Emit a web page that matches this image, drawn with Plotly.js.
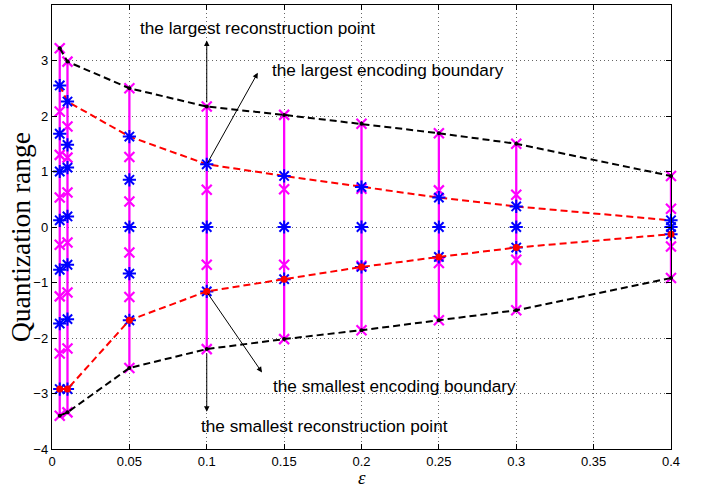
<!DOCTYPE html>
<html>
<head>
<meta charset="utf-8">
<script src="https://cdn.plot.ly/plotly-3.0.1.min.js"></script>
<style>html,body{margin:0;padding:0;background:#fff;}#chart{width:707px;height:487px;}</style>
</head>
<body>
<div id="chart"></div>
<script>
// epsilon values (x positions of the quantizer columns)
const epsilons = [0.005, 0.01, 0.05, 0.1, 0.15, 0.2, 0.25, 0.3, 0.4];

// reconstruction points per epsilon (magenta x)
const recon_0005 = [3.22, 2.08, 1.30, 0.53, -0.32, -1.25, -2.28, -3.40];
const recon_001  = [2.98, 1.81, 1.25, 0.62, -0.28, -1.18, -2.19, -3.34];
const recon_005  = [2.50, 1.26, 0.46, -0.46, -1.26, -2.54];
const recon_01   = [2.17, 0.67, -0.68, -2.20];
const recon_015  = [2.02, 0.68, -0.68, -2.02];
const recon_02   = [1.86, 0.69, -0.70, -1.86];
const recon_025  = [1.69, 0.66, -0.65, -1.68];
const recon_03   = [1.50, 0.58, -0.59, -1.50];
const recon_04   = [0.92, 0.33, -0.35, -0.92];

// encoding boundaries per epsilon (blue *)
const bound_0005 = [2.55, 1.68, 1.00, 0.12, -0.77, -1.74, -2.92];
const bound_001  = [2.26, 1.48, 1.07, 0.19, -0.68, -1.66, -2.92];
const bound_005  = [1.63, 0.85, 0.00, -0.84, -1.68];
const bound_01   = [1.13, 0.00, -1.16];
const bound_015  = [0.92, 0.00, -0.94];
const bound_02   = [0.72, 0.00, -0.72];
const bound_025  = [0.53, 0.00, -0.54];
const bound_03   = [0.37, 0.00, -0.37];
const bound_04   = [0.12, 0.00, -0.13];

// envelope curves
const largestRecon    = [3.22, 2.98, 2.50, 2.17, 2.02, 1.86, 1.69, 1.50, 0.92];
const smallestRecon   = [-3.40, -3.34, -2.54, -2.20, -2.02, -1.86, -1.68, -1.50, -0.92];
const largestBound    = [2.55, 2.26, 1.63, 1.13, 0.92, 0.72, 0.53, 0.37, 0.12];
const smallestBound   = [-2.92, -2.92, -1.68, -1.16, -0.94, -0.72, -0.54, -0.37, -0.13];

// tick labels
const xTickVals = [0, 0.05, 0.1, 0.15, 0.2, 0.25, 0.3, 0.35, 0.4];
const xTickText = ['0', '0.05', '0.1', '0.15', '0.2', '0.25', '0.3', '0.35', '0.4'];
const yTickVals = [-4, -3, -2, -1, 0, 1, 2, 3, 4];
const yTickText = ['\u22124', '\u22123', '\u22122', '\u22121', '0', '1', '2', '3', '4'];

const reconCols = [recon_0005, recon_001, recon_005, recon_01, recon_015, recon_02, recon_025, recon_03, recon_04];
const boundCols = [bound_0005, bound_001, bound_005, bound_01, bound_015, bound_02, bound_025, bound_03, bound_04];

function columns(cols) {
  const xs = [], ys = [];
  cols.forEach((vals, i) => {
    vals.forEach(v => { xs.push(epsilons[i]); ys.push(v); });
    xs.push(null); ys.push(null);
  });
  return {x: xs, y: ys};
}
const rc = columns(reconCols);
const bc = columns(boundCols);

const dashPat = '7px,4px';
const traces = [
  {x: rc.x, y: rc.y, mode: 'lines+markers', connectgaps: false, cliponaxis: false,
   line: {color: '#ff00ff', width: 2.3},
   marker: {symbol: 'x-thin-open', size: 10, color: '#ff00ff', line: {color: '#ff00ff', width: 2.2}},
   hoverinfo: 'skip', showlegend: false},
  {x: epsilons, y: largestBound, mode: 'lines', cliponaxis: false,
   line: {color: '#ff0000', width: 2, dash: dashPat}, showlegend: false},
  {x: bc.x, y: bc.y, mode: 'markers', cliponaxis: false,
   marker: {symbol: 'asterisk-open', size: 11, color: '#0000ff', line: {color: '#0000ff', width: 2}},
   showlegend: false},
  {x: epsilons, y: smallestBound, mode: 'lines+markers', cliponaxis: false,
   line: {color: '#ff0000', width: 2, dash: dashPat},
   marker: {symbol: 'circle', size: 7, color: '#ff0000'}, showlegend: false},
  {x: epsilons, y: largestRecon, mode: 'lines+markers', cliponaxis: false,
   line: {color: '#000000', width: 2, dash: dashPat},
   marker: {symbol: 'circle', size: 4, color: '#000000'}, showlegend: false},
  {x: epsilons, y: smallestRecon, mode: 'lines+markers', cliponaxis: false,
   line: {color: '#000000', width: 2, dash: dashPat},
   marker: {symbol: 'circle', size: 4, color: '#000000'}, showlegend: false}
];

const annFont = {family: 'Liberation Sans, Arial, sans-serif', size: 17.2, color: '#000'};
function arrow(x, y, ax, ay) {
  return {x: x, y: y, ax: ax, ay: ay, xref: 'x', yref: 'y', axref: 'x', ayref: 'y',
          text: '', showarrow: true, arrowhead: 2, arrowsize: 1.1, arrowwidth: 1,
          arrowcolor: '#000', standoff: 0, startstandoff: 0};
}
const annotations = [
  {x: 0.1325, y: 3.59, xref: 'x', yref: 'y', text: 'the largest reconstruction point', showarrow: false, font: annFont},
  {x: 0.217, y: 2.83, xref: 'x', yref: 'y', text: 'the largest encoding boundary', showarrow: false, font: annFont},
  {x: 0.221, y: -2.86, xref: 'x', yref: 'y', text: 'the smallest encoding boundary', showarrow: false, font: annFont},
  {x: 0.176, y: -3.58, xref: 'x', yref: 'y', text: 'the smallest reconstruction point', showarrow: false, font: annFont},
  arrow(0.1, 3.36, 0.1, 2.22),
  arrow(0.133, 2.78, 0.1, 1.13),
  arrow(0.1357, -2.62, 0.1, -1.17),
  arrow(0.1, -3.33, 0.1, -2.25),
  {xref: 'paper', yref: 'paper', x: 0, y: 0.5, xshift: -32, yshift: -10, textangle: -90,
   xanchor: 'center', yanchor: 'middle', showarrow: false, text: 'Quantization range',
   font: {family: 'Liberation Serif, Times New Roman, serif', size: 27.5, color: '#000'}},
  {xref: 'paper', yref: 'paper', x: 0.5, y: 0, yshift: -28.5, xanchor: 'center', yanchor: 'middle',
   showarrow: false, text: '<i>ε</i>',
   font: {family: 'Liberation Serif, Times New Roman, serif', size: 19, color: '#000'}}
];

const axisCommon = {
  showline: true, linecolor: '#000', linewidth: 1.2, mirror: 'ticks',
  ticks: 'inside', ticklen: 5, tickwidth: 1, tickcolor: '#000',
  showgrid: true, gridcolor: 'rgba(0,0,0,0.6)', gridwidth: 1, griddash: '1px,3px',
  zeroline: false, tickfont: {family: 'Liberation Sans, Arial, sans-serif', size: 13, color: '#000'}
};
const layout = {
  width: 707, height: 487,
  margin: {l: 52, r: 36, t: 5, b: 38},
  paper_bgcolor: '#fff', plot_bgcolor: '#fff',
  xaxis: Object.assign({}, axisCommon, {range: [0, 0.4], tickvals: xTickVals, ticktext: xTickText}),
  yaxis: Object.assign({}, axisCommon, {range: [-4, 4], tickvals: yTickVals, ticktext: yTickText}),
  annotations: annotations,
  showlegend: false
};
Plotly.newPlot('chart', traces, layout, {staticPlot: true, displayModeBar: false});
</script>
</body>
</html>
